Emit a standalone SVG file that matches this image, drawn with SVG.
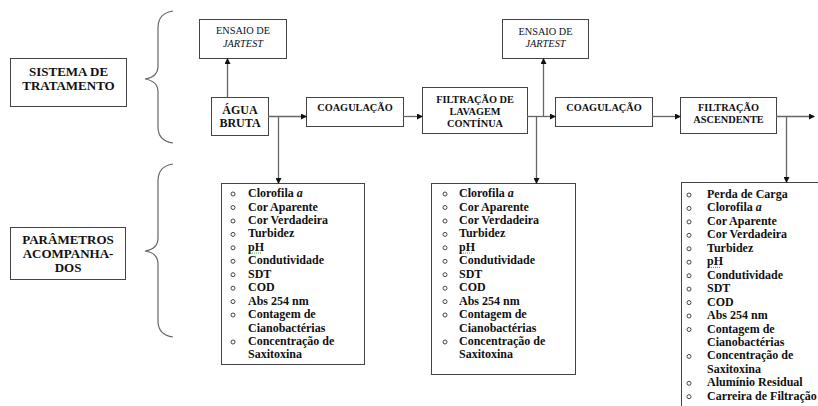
<svg xmlns="http://www.w3.org/2000/svg" width="818" height="406" viewBox="0 0 818 406">
<defs>
<marker id="ah" markerWidth="6" markerHeight="6" refX="5" refY="3" orient="auto" markerUnits="userSpaceOnUse">
<path d="M0,0 L6,3 L0,6 Z" fill="#111"/>
</marker>
<style>
.box{fill:#fff;stroke:#444;stroke-width:1}
.ln{fill:none;stroke:#666;stroke-width:1.3}
.br{fill:none;stroke:#666;stroke-width:1.2}
.t{font-family:"Liberation Serif","Times New Roman",serif;fill:#111;text-anchor:middle}
.b{font-weight:bold}
.big{font-size:13px}
.mid{font-size:12px}
.sm{font-size:10.3px}
.li{font-family:"Liberation Serif","Times New Roman",serif;font-size:12px;font-weight:bold;fill:#111}
.bu{fill:none;stroke:#333;stroke-width:0.9}
.sq{stroke:#3a3;stroke-width:1;stroke-dasharray:1 1}
</style>
</defs>
<rect width="818" height="406" fill="#fff"/>

<g id="braces">
<path class="br" d="M173,11 Q158,13 158,28 L158,66 Q158,77 145,79 Q158,81 158,92 L158,127 Q158,141 173,143"/>
<path class="br" d="M173,164 Q158,166 158,181 L158,238 Q158,249 145,251 Q158,253 158,264 L158,321 Q158,335 173,337"/>
</g>

<g id="sistema">
<rect class="box" x="10.5" y="58.5" width="116" height="48"/>
<text class="t b big" x="68.5" y="76">SISTEMA DE</text>
<text class="t b big" x="68.5" y="90">TRATAMENTO</text>
</g>

<g id="parametros">
<rect class="box" x="10.5" y="227.5" width="115" height="52"/>
<text class="t b big" x="68" y="244">PARÂMETROS</text>
<text class="t b big" x="68" y="258">ACOMPANHA-</text>
<text class="t b big" x="68" y="272">DOS</text>
</g>

<g id="jartest1">
<rect class="box" x="199.5" y="19.5" width="87" height="39"/>
<text class="t sm" x="243" y="34">ENSAIO DE</text>
<text class="t sm" x="243" y="47" font-style="italic">JARTEST</text>
</g>

<g id="agua">
<rect class="box" x="211.5" y="97.5" width="57" height="38"/>
<text class="t b mid" x="240" y="114">ÁGUA</text>
<text class="t b mid" x="240" y="127">BRUTA</text>
</g>

<g id="coag1">
<rect class="box" x="306.5" y="97.5" width="97" height="29"/>
<text class="t b sm" x="355" y="111">COAGULAÇÃO</text>
</g>

<g id="filtlav">
<rect class="box" x="422.5" y="87.5" width="105" height="46"/>
<text class="t b sm" x="475" y="103">FILTRAÇÃO DE</text>
<text class="t b sm" x="475" y="115">LAVAGEM</text>
<text class="t b sm" x="475" y="127">CONTÍNUA</text>
</g>

<g id="jartest2">
<rect class="box" x="502.5" y="19.5" width="86" height="39"/>
<text class="t sm" x="545.5" y="34.5">ENSAIO DE</text>
<text class="t sm" x="545.5" y="47" font-style="italic">JARTEST</text>
</g>

<g id="coag2">
<rect class="box" x="555.5" y="97.5" width="97" height="29"/>
<text class="t b sm" x="604" y="111">COAGULAÇÃO</text>
</g>

<g id="filtasc">
<rect class="box" x="680.5" y="97.5" width="96" height="36"/>
<text class="t b sm" x="728.5" y="111">FILTRAÇÃO</text>
<text class="t b sm" x="728.5" y="123">ASCENDENTE</text>
</g>

<g id="lista1">
<rect class="box" x="221.5" y="183.5" width="143" height="181"/>
<g class="bu">
<circle cx="233" cy="194" r="2"/><circle cx="233" cy="207.5" r="2"/><circle cx="233" cy="221" r="2"/><circle cx="233" cy="234.4" r="2"/><circle cx="233" cy="247.8" r="2"/><circle cx="233" cy="261.3" r="2"/><circle cx="233" cy="274.7" r="2"/><circle cx="233" cy="288.2" r="2"/><circle cx="233" cy="301.6" r="2"/><circle cx="233" cy="315" r="2"/><circle cx="233" cy="342" r="2"/>
</g>
<text class="li" x="248" y="197">Clorofila <tspan font-style="italic">a</tspan></text>
<text class="li" x="248" y="210.5">Cor Aparente</text>
<text class="li" x="248" y="224">Cor Verdadeira</text>
<text class="li" x="248" y="237.4">Turbidez</text>
<text class="li" x="248" y="250.8">pH</text>
<line class="sq" x1="248" y1="253" x2="262" y2="253"/>
<text class="li" x="248" y="264.3">Condutividade</text>
<text class="li" x="248" y="277.7">SDT</text>
<text class="li" x="248" y="291.2">COD</text>
<text class="li" x="248" y="304.6">Abs 254 nm</text>
<text class="li" x="248" y="318">Contagem de</text>
<text class="li" x="248" y="331.5">Cianobactérias</text>
<text class="li" x="248" y="345">Concentração de</text>
<text class="li" x="248" y="358.4">Saxitoxina</text>
</g>

<g id="lista2">
<rect class="box" x="431.5" y="183.5" width="144" height="191"/>
<g class="bu">
<circle cx="445" cy="194" r="2"/><circle cx="445" cy="207.5" r="2"/><circle cx="445" cy="221" r="2"/><circle cx="445" cy="234.4" r="2"/><circle cx="445" cy="247.8" r="2"/><circle cx="445" cy="261.3" r="2"/><circle cx="445" cy="274.7" r="2"/><circle cx="445" cy="288.2" r="2"/><circle cx="445" cy="301.6" r="2"/><circle cx="445" cy="315" r="2"/><circle cx="445" cy="342" r="2"/>
</g>
<text class="li" x="459" y="197">Clorofila <tspan font-style="italic">a</tspan></text>
<text class="li" x="459" y="210.5">Cor Aparente</text>
<text class="li" x="459" y="224">Cor Verdadeira</text>
<text class="li" x="459" y="237.4">Turbidez</text>
<text class="li" x="459" y="250.8">pH</text>
<line class="sq" x1="459" y1="253" x2="473" y2="253"/>
<text class="li" x="459" y="264.3">Condutividade</text>
<text class="li" x="459" y="277.7">SDT</text>
<text class="li" x="459" y="291.2">COD</text>
<text class="li" x="459" y="304.6">Abs 254 nm</text>
<text class="li" x="459" y="318">Contagem de</text>
<text class="li" x="459" y="331.5">Cianobactérias</text>
<text class="li" x="459" y="345">Concentração de</text>
<text class="li" x="459" y="358.4">Saxitoxina</text>
</g>

<g id="lista3">
<rect class="box" x="681.5" y="182.5" width="150" height="240"/>
<g class="bu">
<circle cx="689" cy="195" r="2"/><circle cx="689" cy="208.4" r="2"/><circle cx="689" cy="221.9" r="2"/><circle cx="689" cy="235.3" r="2"/><circle cx="689" cy="248.8" r="2"/><circle cx="689" cy="262.2" r="2"/><circle cx="689" cy="275.7" r="2"/><circle cx="689" cy="289.1" r="2"/><circle cx="689" cy="302.6" r="2"/><circle cx="689" cy="316" r="2"/><circle cx="689" cy="329.5" r="2"/><circle cx="689" cy="356.4" r="2"/><circle cx="689" cy="383.3" r="2"/><circle cx="689" cy="396.7" r="2"/>
</g>
<text class="li" x="707" y="198">Perda de Carga</text>
<text class="li" x="707" y="211.4">Clorofila <tspan font-style="italic">a</tspan></text>
<text class="li" x="707" y="224.9">Cor Aparente</text>
<text class="li" x="707" y="238.3">Cor Verdadeira</text>
<text class="li" x="707" y="251.8">Turbidez</text>
<text class="li" x="707" y="265.2">pH</text>
<line class="sq" x1="707" y1="267.4" x2="721" y2="267.4"/>
<text class="li" x="707" y="278.7">Condutividade</text>
<text class="li" x="707" y="292.1">SDT</text>
<text class="li" x="707" y="305.6">COD</text>
<text class="li" x="707" y="319">Abs 254 nm</text>
<text class="li" x="707" y="332.5">Contagem de</text>
<text class="li" x="707" y="345.9">Cianobactérias</text>
<text class="li" x="707" y="359.4">Concentração de</text>
<text class="li" x="707" y="372.8">Saxitoxina</text>
<text class="li" x="707" y="386.3">Alumínio Residual</text>
<text class="li" x="707" y="399.7">Carreira de Filtração</text>
</g>

<g id="connectors">
<line class="ln" x1="227.5" y1="97" x2="227.5" y2="59" marker-end="url(#ah)"/>
<line class="ln" x1="268" y1="116.5" x2="306" y2="116.5" marker-end="url(#ah)"/>
<line class="ln" x1="278.5" y1="116.5" x2="278.5" y2="183" marker-end="url(#ah)"/>
<line class="ln" x1="403" y1="116.5" x2="422" y2="116.5" marker-end="url(#ah)"/>
<line class="ln" x1="527" y1="116.5" x2="555" y2="116.5" marker-end="url(#ah)"/>
<line class="ln" x1="536.5" y1="116.5" x2="536.5" y2="183" marker-end="url(#ah)"/>
<line class="ln" x1="543.5" y1="116.5" x2="543.5" y2="59" marker-end="url(#ah)"/>
<line class="ln" x1="652" y1="116.5" x2="680" y2="116.5" marker-end="url(#ah)"/>
<line class="ln" x1="776" y1="116.5" x2="814" y2="116.5" marker-end="url(#ah)"/>
<line class="ln" x1="786.5" y1="116.5" x2="786.5" y2="182" marker-end="url(#ah)"/>
</g>
</svg>
